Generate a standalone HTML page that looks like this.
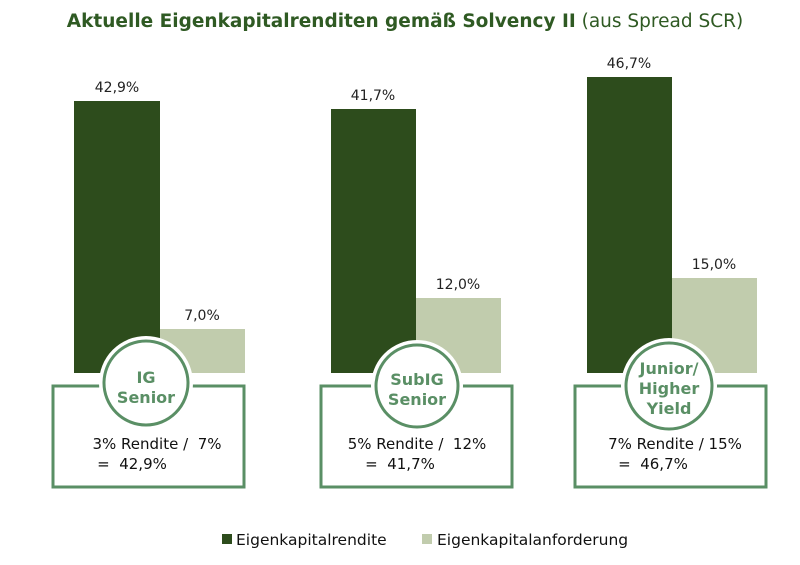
<!DOCTYPE html>
<html><head><meta charset="utf-8"><style>
body{margin:0;background:#fff;}
svg text{font-family:"DejaVu Sans","Liberation Sans",sans-serif;}
</style></head><body>
<svg width="800" height="560" viewBox="0 0 800 560" xmlns="http://www.w3.org/2000/svg">
<text x="405" y="27" text-anchor="middle" font-size="18.5" fill="#2f5a23"><tspan font-weight="bold">Aktuelle Eigenkapitalrenditen gemäß Solvency II</tspan> (aus Spread SCR)</text>
<g fill="#2d4c1c">
<rect x="74" y="101" width="86" height="272"/>
<rect x="331" y="109" width="85" height="264"/>
<rect x="587" y="77" width="85" height="296"/>
</g>
<g fill="#c1ccad">
<rect x="160" y="329" width="85" height="44"/>
<rect x="416" y="298" width="85" height="75"/>
<rect x="672" y="278" width="85" height="95"/>
</g>
<g font-size="14" fill="#222" text-anchor="middle">
<text x="117" y="92">42,9%</text>
<text x="373" y="100">41,7%</text>
<text x="629" y="68">46,7%</text>
<text x="202" y="320">7,0%</text>
<text x="458" y="289">12,0%</text>
<text x="714" y="269">15,0%</text>
</g>
<g fill="#fff" stroke="#5a8f65" stroke-width="3">
<rect x="53" y="386" width="191" height="101"/>
<rect x="321" y="386" width="191" height="101"/>
<rect x="575" y="386" width="191" height="101"/>
</g>
<g fill="#fff" stroke="#fff" stroke-width="10">
<circle cx="146" cy="383" r="42"/>
<circle cx="417" cy="386" r="41"/>
<circle cx="669" cy="386" r="43"/>
</g>
<g fill="#fff" stroke="#5a8f65" stroke-width="3">
<circle cx="146" cy="383" r="42"/>
<circle cx="417" cy="386" r="41"/>
<circle cx="669" cy="386" r="43"/>
</g>
<g font-size="16" font-weight="bold" fill="#5a8f65" text-anchor="middle">
<text x="146" y="383">IG</text><text x="146" y="403">Senior</text>
<text x="417" y="385">SubIG</text><text x="417" y="405">Senior</text>
<text x="669" y="374">Junior/</text><text x="669" y="394">Higher</text><text x="669" y="414">Yield</text>
</g>
<g font-size="15" fill="#111" text-anchor="middle">
<text x="157" y="449" xml:space="preserve">3% Rendite /  7%</text><text x="132" y="469" xml:space="preserve">=  42,9%</text>
<text x="417" y="449" xml:space="preserve">5% Rendite /  12%</text><text x="400" y="469" xml:space="preserve">=  41,7%</text>
<text x="675" y="449">7% Rendite / 15%</text><text x="653" y="469" xml:space="preserve">=  46,7%</text>
</g>
<rect x="222" y="534" width="10" height="10" fill="#2d4c1c"/>
<text x="236" y="545" font-size="15.5" fill="#111">Eigenkapitalrendite</text>
<rect x="422" y="534" width="10" height="10" fill="#c1ccad"/>
<text x="437" y="545" font-size="15.5" fill="#111">Eigenkapitalanforderung</text>
</svg>
</body></html>
